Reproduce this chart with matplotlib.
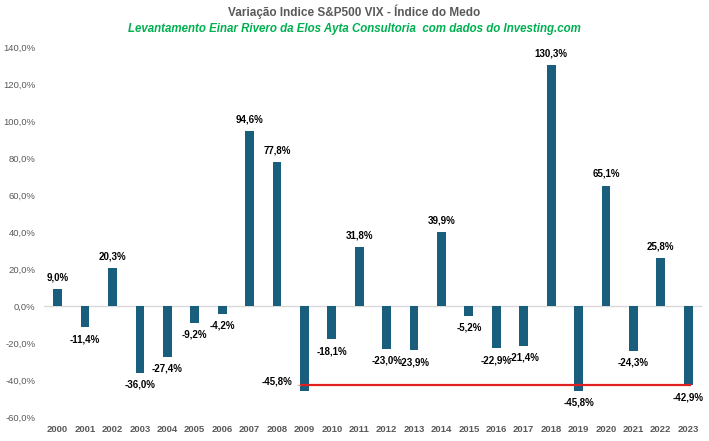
import numpy as np
import matplotlib.pyplot as plt

# --- dados ---
years = [str(y) for y in range(2000, 2024)]
vix_change = [9.0, -11.4, 20.3, -36.0, -27.4, -9.2, -4.2, 94.6, 77.8, -45.8,
              -18.1, 31.8, -23.0, -23.9, 39.9, -5.2, -22.9, -21.4, 130.3, -45.8,
              65.1, -24.3, 25.8, -42.9]
ref_level = -42.9          # linha vermelha
ref_from, ref_to = 9, 23   # indices 2009 .. 2023

BAR = '#1A5E7E'
GRAY = '#595959'

plt.rcParams['font.family'] = ['Liberation Sans', 'DejaVu Sans']

fig = plt.figure(figsize=(7.09, 4.41), dpi=100)
ax = fig.add_axes([0.062, 0.0544, 0.928, 0.839])
x = np.arange(len(years))
ax.bar(x, vix_change, width=0.32, color=BAR, zorder=2)
ax.axhline(0, color='#D9D9D9', lw=1, zorder=1)

ax.plot([x[ref_from] - 0.12, x[ref_to] + 0.05], [ref_level, ref_level],
        color='#E0201E', lw=1.6, zorder=3)

for i, v in enumerate(vix_change):
    txt = f"{v:.1f}%".replace('.', ',')
    if i == 9:
        ax.annotate(txt, xy=(x[i] - 0.05, v + 2.5), xytext=(x[i] - 1.0, v + 5),
                    ha='center', va='center', fontsize=7, fontweight='bold',
                    arrowprops=dict(arrowstyle='-', color='#A6A6A6', lw=0.6))
        continue
    if v >= 0:
        ax.annotate(txt, (x[i], v), xytext=(0, 5), textcoords='offset points',
                    ha='center', va='bottom', fontsize=7, fontweight='bold')
    else:
        ax.annotate(txt, (x[i], v), xytext=(0, -5), textcoords='offset points',
                    ha='center', va='top', fontsize=7, fontweight='bold')

ax.set_xlim(-0.5, len(years) - 0.5)
ax.set_ylim(-60, 140)
ax.set_yticks(np.arange(-60, 141, 20))
ax.set_yticklabels([f"{t:.1f}%".replace('.', ',') for t in np.arange(-60, 141, 20)])
ax.set_xticks(x)
ax.set_xticklabels(years)
ax.tick_params(length=0, colors=GRAY, labelsize=6.8)
ax.tick_params(axis='x', pad=6)
ax.tick_params(axis='y', pad=6)
for lab in ax.get_xticklabels():
    lab.set_fontweight('bold')
for s in ax.spines.values():
    s.set_visible(False)

fig.text(0.5, 0.973, 'Variação Indice S&P500 VIX - Índice do Medo', ha='center',
         va='center', fontsize=8.5, fontweight='bold', color=GRAY)
fig.text(0.5, 0.935, 'Levantamento Einar Rivero da Elos Ayta Consultoria  com dados do Investing.com',
         ha='center', va='center', fontsize=8.3, fontweight='bold', style='italic',
         color='#00B050')

fig.savefig('out.png', dpi=100)
